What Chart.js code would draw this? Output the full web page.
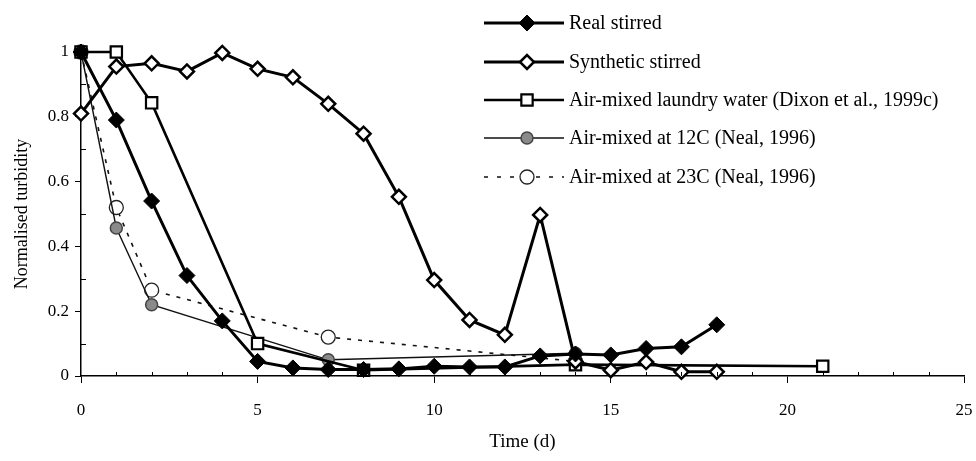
<!DOCTYPE html>
<html>
<head>
<meta charset="utf-8">
<script src="https://cdn.jsdelivr.net/npm/chart.js@4"></script>
<style>
    html, body { margin: 0; padding: 0; background: #fff; }
    #wrap { width: 976px; height: 461px; position: relative; }
</style>
</head>
<body>
<div id="wrap"><canvas id="turbChart" width="976" height="461"></canvas></div>
<script>
// values
const realDays = [0, 1, 2, 3, 4, 5, 6, 7, 8, 9, 10, 11, 12, 13, 14, 15, 16, 17, 18];
const realValues = [1.0, 0.79, 0.54, 0.31, 0.17, 0.045, 0.025, 0.02, 0.02, 0.022, 0.03, 0.028, 0.028, 0.062, 0.068, 0.065, 0.085, 0.09, 0.158];

const synthDays = [0, 1, 2, 3, 4, 5, 6, 7, 8, 9, 10, 11, 12, 13, 14, 15, 16, 17, 18];
const synthValues = [0.81, 0.955, 0.965, 0.94, 0.997, 0.948, 0.922, 0.84, 0.748, 0.553, 0.296, 0.173, 0.127, 0.497, 0.045, 0.018, 0.043, 0.013, 0.013];

const laundryDays = [0, 1, 2, 5, 8, 14, 21];
const laundryValues = [1.0, 1.0, 0.843, 0.1, 0.018, 0.035, 0.03];

const neal12Days = [0, 1, 2, 7, 14];
const neal12Values = [1.0, 0.457, 0.22, 0.05, 0.07];

const neal23Days = [0, 1, 2, 7, 14];
const neal23Values = [1.0, 0.52, 0.265, 0.12, 0.045];

const xTicks = [0, 5, 10, 15, 20, 25];
const yTicks = [0, 0.2, 0.4, 0.6, 0.8, 1];

const seriesNames = [
    'Real stirred',
    'Synthetic stirred',
    'Air-mixed laundry water (Dixon et al., 1999c)',
    'Air-mixed at 12C (Neal, 1996)',
    'Air-mixed at 23C (Neal, 1996)'
];

function toPoints(days, values) {
    return days.map((d, i) => ({ x: d, y: values[i] }));
}

const serif = "'Liberation Serif', 'Times New Roman', serif";

// minor ticks pointing inside + overlaid legend
const extrasPlugin = {
    id: 'extras',
    afterDraw(chart) {
        const c = chart.ctx;
        const xs = chart.scales.x;
        const ys = chart.scales.y;
        const area = chart.chartArea;
        c.save();
        c.strokeStyle = '#000';
        c.lineWidth = 1;
        c.beginPath();
        for (let v = 1; v < 25; v++) {
            if (v % 5 === 0) continue;
            const px = Math.round(xs.getPixelForValue(v)) + 0.5;
            c.moveTo(px, area.bottom);
            c.lineTo(px, area.bottom - 4);
        }
        for (let v = 0.1; v < 1; v += 0.2) {
            const py = Math.round(ys.getPixelForValue(v)) + 0.5;
            c.moveTo(area.left, py);
            c.lineTo(area.left + 5, py);
        }
        c.stroke();

        // legend
        const rowY = [23, 62, 100, 138, 177];
        const x0 = 484, x1 = 564, mx = 527, tx = 569;
        c.font = '20px ' + serif;
        c.textBaseline = 'middle';
        c.fillStyle = '#000';
        chart.data.datasets.forEach((ds, i) => {
            const y = rowY[i];
            c.save();
            c.strokeStyle = ds.borderColor;
            c.lineWidth = ds.borderWidth;
            c.setLineDash(i === 4 ? [4, 9] : []);
            c.beginPath();
            c.moveTo(x0, y);
            c.lineTo(x1, y);
            c.stroke();
            c.restore();
            c.save();
            c.fillStyle = ds.pointBackgroundColor;
            c.strokeStyle = ds.pointBorderColor;
            c.lineWidth = ds.pointBorderWidth;
            Chart.helpers.drawPoint(c, {
                pointStyle: ds.pointStyle,
                radius: ds.pointRadius,
                borderWidth: ds.pointBorderWidth,
                rotation: 0
            }, mx, y);
            c.restore();
            c.fillText(seriesNames[i], tx, y + 1);
        });
        c.restore();
    }
};

new Chart(document.getElementById('turbChart'), {
    type: 'line',
    data: {
        datasets: [
            {
                label: seriesNames[0],
                data: toPoints(realDays, realValues),
                borderColor: '#000',
                borderWidth: 3,
                pointStyle: 'rectRot',
                pointRadius: 8,
                pointBackgroundColor: '#000',
                pointBorderColor: '#000',
                pointBorderWidth: 1,
                clip: false,
                order: 1
            },
            {
                label: seriesNames[1],
                data: toPoints(synthDays, synthValues),
                borderColor: '#000',
                borderWidth: 3,
                pointStyle: 'rectRot',
                pointRadius: 7,
                pointBackgroundColor: '#fff',
                pointBorderColor: '#000',
                pointBorderWidth: 2.5,
                clip: false,
                order: 2
            },
            {
                label: seriesNames[2],
                data: toPoints(laundryDays, laundryValues),
                borderColor: '#000',
                borderWidth: 2.6,
                pointStyle: 'rect',
                pointRadius: 8,
                pointBackgroundColor: '#fff',
                pointBorderColor: '#000',
                pointBorderWidth: 2.2,
                clip: false,
                order: 3
            },
            {
                label: seriesNames[3],
                data: toPoints(neal12Days, neal12Values),
                borderColor: '#111',
                borderWidth: 1.4,
                pointStyle: 'circle',
                pointRadius: 6,
                pointBackgroundColor: '#8a8a8a',
                pointBorderColor: '#444',
                pointBorderWidth: 1.5,
                clip: false,
                order: 4
            },
            {
                label: seriesNames[4],
                data: toPoints(neal23Days, neal23Values),
                borderColor: '#111',
                borderWidth: 1.6,
                borderDash: [4, 7],
                pointStyle: 'circle',
                pointRadius: 7,
                pointBackgroundColor: '#fff',
                pointBorderColor: '#222',
                pointBorderWidth: 1.3,
                clip: false,
                order: 5
            }
        ]
    },
    options: {
        responsive: false,
        animation: false,
        layout: {
            padding: { left: 0, right: 0, top: 52, bottom: 0 }
        },
        plugins: {
            legend: { display: false },
            tooltip: { enabled: false }
        },
        scales: {
            x: {
                type: 'linear',
                min: 0,
                max: 25,
                afterBuildTicks: (s) => { s.ticks = xTicks.map(v => ({ value: v })); },
                afterFit: (s) => {
                    s.height = 85;
                    s.paddingLeft = 0;
                    s.paddingRight = 12;
                },
                ticks: {
                    color: '#000',
                    font: { family: serif, size: 17 },
                    padding: 17,
                    maxRotation: 0
                },
                grid: {
                    drawOnChartArea: false,
                    drawTicks: true,
                    tickLength: 7,
                    color: '#000'
                },
                border: { color: '#000', width: 1.5 },
                title: {
                    display: true,
                    text: 'Time (d)',
                    color: '#000',
                    font: { family: serif, size: 19 },
                    padding: { top: 10, bottom: 8 }
                }
            },
            y: {
                type: 'linear',
                min: 0,
                max: 1,
                afterBuildTicks: (s) => { s.ticks = yTicks.map(v => ({ value: v })); },
                afterFit: (s) => { s.width = 81; },
                ticks: {
                    color: '#000',
                    font: { family: serif, size: 17 },
                    padding: 6,
                    callback: (v) => String(Math.round(v * 10) / 10)
                },
                grid: {
                    drawOnChartArea: false,
                    drawTicks: true,
                    tickLength: 6,
                    color: '#000'
                },
                border: { color: '#000', width: 1.5 },
                title: {
                    display: true,
                    text: 'Normalised turbidity',
                    color: '#000',
                    font: { family: serif, size: 18 },
                    padding: { top: 11, bottom: 4 }
                }
            }
        }
    },
    plugins: [extrasPlugin]
});
</script>
</body>
</html>
